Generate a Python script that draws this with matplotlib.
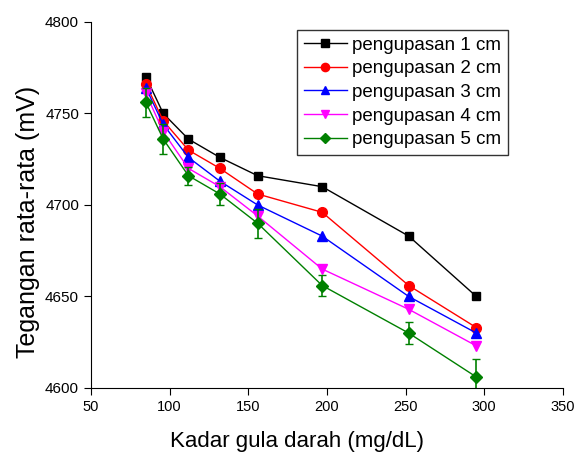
import numpy as np
import matplotlib.pyplot as plt

plt.rcParams['font.family'] = ['Liberation Sans', 'DejaVu Sans']

kadar = [85, 96, 112, 132, 156, 197, 252, 295]
v1 = [4770, 4750, 4736, 4726, 4716, 4710, 4683, 4650]
v2 = [4766, 4746, 4730, 4720, 4706, 4696, 4656, 4633]
v3 = [4764, 4744, 4726, 4713, 4700, 4683, 4650, 4630]
v4 = [4761, 4740, 4720, 4710, 4694, 4665, 4643, 4623]
v5 = [4756, 4736, 4716, 4706, 4690, 4656, 4630, 4606]
err5 = [8, 8, 5, 6, 8, 6, 6, 10]

labels = ['pengupasan 1 cm', 'pengupasan 2 cm', 'pengupasan 3 cm',
          'pengupasan 4 cm', 'pengupasan 5 cm']

fig = plt.figure(figsize=(5.75, 4.53), dpi=100)
ax = fig.add_axes([0.158, 0.1435, 0.821, 0.808])

ax.plot(kadar, v1, 'k-s', lw=1, ms=6, label=labels[0])
ax.plot(kadar, v2, '-o', color='red', lw=1, ms=7, label=labels[1])
ax.plot(kadar, v3, '-^', color='blue', lw=1, ms=7, label=labels[2])
ax.plot(kadar, v4, '-v', color='magenta', lw=1, ms=7, label=labels[3])
ax.errorbar(kadar, v5, yerr=err5, fmt='none', ecolor='green',
            capsize=3, elinewidth=1.2)
ax.plot(kadar, v5, '-D', color='green', lw=1, ms=6, label=labels[4])

ax.set_xlim(50, 350)
ax.set_ylim(4600, 4800)
ax.set_xticks([50, 100, 150, 200, 250, 300, 350])
ax.set_yticks([4600, 4650, 4700, 4750, 4800])
ax.spines['top'].set_visible(False)
ax.spines['right'].set_visible(False)
ax.tick_params(direction='out', length=5)
ax.tick_params(axis='x', labelsize=10.5)
ax.tick_params(axis='y', labelsize=11)

ax.set_xlabel('Kadar gula darah (mg/dL)', fontsize=16)
ax.set_ylabel('Tegangan rata-rata (mV)', fontsize=18)
ax.xaxis.set_label_coords(0.436, -0.118)
ax.yaxis.set_label_coords(-0.107, 0.454)

leg = ax.legend(loc='upper left', bbox_to_anchor=(0.5165, 0.934),
                bbox_transform=fig.transFigure, borderaxespad=0,
                fontsize=13.5, frameon=True, fancybox=False,
                edgecolor='black', handlelength=2.3, handletextpad=0.3,
                borderpad=0.35, labelspacing=0.35, markerscale=0.85)
leg.get_frame().set_linewidth(1)

fig.savefig('out.png', dpi=100)
